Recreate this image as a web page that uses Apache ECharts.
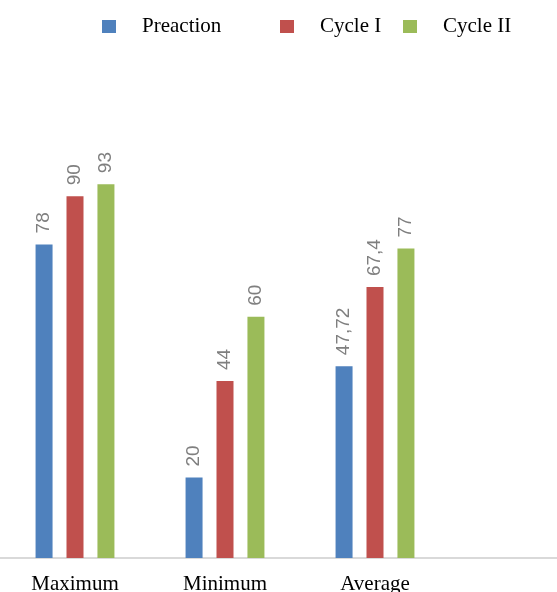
<!DOCTYPE html>
<html>
<head>
<meta charset="utf-8">
<script src="https://cdn.jsdelivr.net/npm/echarts@6/dist/echarts.min.js"></script>
<style>
  html, body { margin: 0; padding: 0; background: #fff; }
  #chart { width: 557px; height: 592px; }
</style>
</head>
<body>
<div id="chart"></div>
<script>
const categories = ['Maximum', 'Minimum', 'Average', '']
const preaction = [78, 20, 47.72]
const cycle1 = [90, 44, 67.4]
const cycle2 = [93, 60, 77]
const seriesNames = ['Preaction', 'Cycle I', 'Cycle II']
const colors = ['#4f81bd', '#c0504d', '#9bbb59']

const chart = echarts.init(document.getElementById('chart'))

// label with comma decimal, rotated upward
const barLabel = {
  show: true,
  position: 'top',
  rotate: 90,
  align: 'left',
  verticalAlign: 'middle',
  distance: 11,
  fontSize: 19,
  fontFamily: 'Liberation Sans, Arial, sans-serif',
  color: '#7f7f7f',
  formatter: (p) => String(p.value).replace('.', ','),
}

const makeLegend = (name, left) => ({
  data: [name],
  left: left,
  top: 11,
  itemWidth: 14,
  itemHeight: 13,
  icon: 'rect',
  textStyle: {
    fontFamily: 'Liberation Serif, Times New Roman, serif',
    fontSize: 21,
    color: '#000',
    padding: [0, 0, 0, 21],
  },
})

const makeSeries = (name, data, color) => ({
  name,
  type: 'bar',
  data,
  barWidth: 17,
  barGap: '82%',
  itemStyle: { color },
  label: barLabel,
})

const options = {
  animation: false,
  legend: [
    makeLegend(seriesNames[0], 97),
    makeLegend(seriesNames[1], 275),
    makeLegend(seriesNames[2], 398),
  ],
  grid: {
    left: 0,
    right: -43,
    top: 156,
    bottom: 34,
    containLabel: false,
    outerBoundsMode: 'none',
  },
  xAxis: {
    type: 'category',
    data: categories,
    axisLine: { lineStyle: { color: '#d9d9d9', width: 2 } },
    axisTick: { show: false },
    axisLabel: {
      margin: 16,
      fontFamily: 'Liberation Serif, Times New Roman, serif',
      fontSize: 21,
      color: '#000',
    },
  },
  yAxis: {
    type: 'value',
    min: 0,
    max: 100,
    show: false,
  },
  series: [
    makeSeries(seriesNames[0], preaction, colors[0]),
    makeSeries(seriesNames[1], cycle1, colors[1]),
    makeSeries(seriesNames[2], cycle2, colors[2]),
  ],
}
chart.setOption(options, true)
</script>
</body>
</html>
